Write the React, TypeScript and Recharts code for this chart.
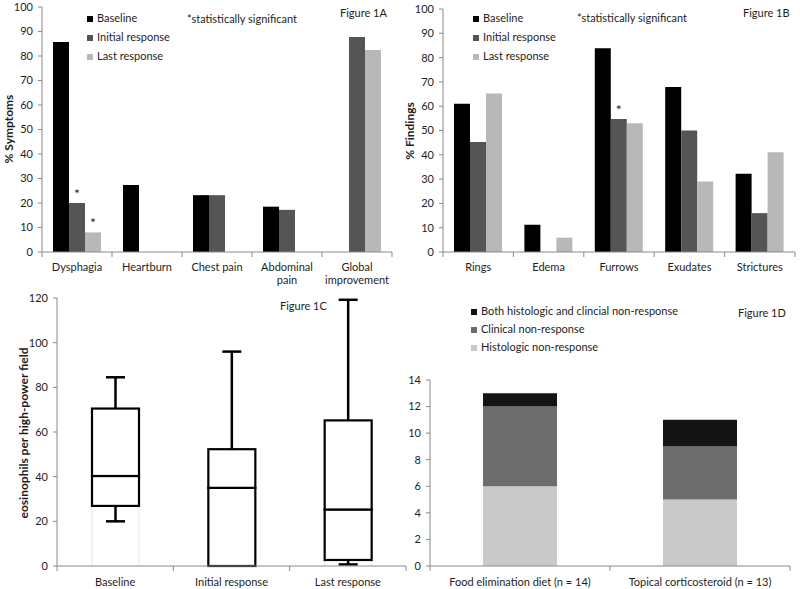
import React from 'react';
import {
  BarChart,
  Bar,
  XAxis,
  YAxis,
  Legend,
  LabelList,
} from 'recharts';

// Figure 1A - symptoms
const symptomCats = ['Dysphagia', 'Heartburn', 'Chest pain', 'Abdominal\npain', 'Global\nimprovement'];
const symptomBaseline = [85.7, 27.3, 23.2, 18.5, null];
const symptomInitial = [20, null, 23.2, 17.2, 87.8];
const symptomLast = [8, null, null, null, 82.4];
const symptomSigInitial = [true, false, false, false, false];
const symptomSigLast = [true, false, false, false, false];

// Figure 1B - endoscopic findings
const findingCats = ['Rings', 'Edema', 'Furrows', 'Exudates', 'Strictures'];
const findingBaseline = [61, 11.2, 83.8, 67.9, 32.2];
const findingInitial = [45.3, null, 54.7, 50, 16];
const findingLast = [65.2, 5.9, 53, 29, 41];
const findingSigInitial = [false, false, true, false, false];

// Figure 1C - eosinophil counts (box plot)
const eosCats = ['Baseline', 'Initial response', 'Last response'];
const eosMin = [20, 0, 0.7];
const eosQ1 = [26.9, 0, 2.7];
const eosMedian = [40.3, 35, 25.3];
const eosQ3 = [70.5, 52.3, 65.2];
const eosMax = [84.5, 96, 119.2];

// Figure 1D - non-response by treatment
const treatCats = ['Food elimination diet (n = 14)', 'Topical corticosteroid (n = 13)'];
const histologicNR = [6, 5];
const clinicalNR = [6, 4];
const bothNR = [1, 2];

const pctTicks = [0, 10, 20, 30, 40, 50, 60, 70, 80, 90, 100];
const eosTicks = [0, 20, 40, 60, 80, 100, 120];
const countTicks = [0, 2, 4, 6, 8, 10, 12, 14];

const AXIS = '#8a8a8a';
const TXT = '#1e1e1e';
const FONT = 'Lato, "Open Sans", sans-serif';

const dataA = symptomCats.map((name, i) => ({
  name,
  baseline: symptomBaseline[i],
  initial: symptomInitial[i],
  last: symptomLast[i],
  sigInitial: symptomSigInitial[i],
  sigLast: symptomSigLast[i],
}));

const dataB = findingCats.map((name, i) => ({
  name,
  baseline: findingBaseline[i],
  initial: findingInitial[i],
  last: findingLast[i],
  sigInitial: findingSigInitial[i],
  sigLast: false,
}));

const dataC = eosCats.map((name, i) => ({
  name,
  base: eosMin[i],
  lowWhisker: eosQ1[i] - eosMin[i],
  boxLow: eosMedian[i] - eosQ1[i],
  boxHigh: eosQ3[i] - eosMedian[i],
  highWhisker: eosMax[i] - eosQ3[i],
}));

const dataD = treatCats.map((name, i) => ({
  name,
  histologic: histologicNR[i],
  clinical: clinicalNR[i],
  both: bothNR[i],
}));

// category tick: label (possibly 2 lines) + tick marks at band boundaries
const CatTick = (props: any) => {
  const { x, y, payload, index, visibleTicksCount, textY } = props;
  const half = payload.offset || 0;
  const lines = String(payload.value).split('\n');
  const last = index === visibleTicksCount - 1;
  return (
    <g>
      <line x1={x - half} x2={x - half} y1={y} y2={y + 5} stroke={AXIS} />
      {last && <line x1={x + half} x2={x + half} y1={y} y2={y + 5} stroke={AXIS} />}
      <text x={x} y={y + textY} textAnchor="middle" fill={TXT} fontSize={11}>
        {lines.map((l, i) => (
          <tspan key={i} x={x} dy={i === 0 ? 0 : 13}>
            {l}
          </tspan>
        ))}
      </text>
    </g>
  );
};

const Star = (props: any) => {
  const { x, y, width, value } = props;
  if (!value) return null;
  return (
    <text x={x + width / 2} y={y - 4} textAnchor="middle" fill={TXT} fontSize={14}>
      *
    </text>
  );
};

const legendText = (v: string) => <span style={{ color: TXT }}>{v}</span>;

const BoxPart = (props: any) => {
  const { x, y, width, height } = props;
  if (!height) return null;
  return <rect x={x} y={y} width={width} height={height} fill="#fff" stroke="#000" strokeWidth={2.2} />;
};

const Faint = (props: any) => {
  const { x, y, width, height } = props;
  if (!height) return null;
  return (
    <g stroke="#e6e6e6">
      <line x1={x} x2={x} y1={y} y2={y + height} />
      <line x1={x + width} x2={x + width} y1={y} y2={y + height} />
    </g>
  );
};

const WhiskerLow = (props: any) => {
  const { x, y, width, height } = props;
  if (!height) return null;
  const cx = x + width / 2;
  return (
    <g>
      <Faint {...props} />
      <line x1={cx} x2={cx} y1={y} y2={y + height} stroke="#000" strokeWidth={2.5} />
      <line x1={cx - 9.5} x2={cx + 9.5} y1={y + height} y2={y + height} stroke="#000" strokeWidth={2.5} />
    </g>
  );
};

const WhiskerHigh = (props: any) => {
  const { x, y, width, height } = props;
  if (!height) return null;
  const cx = x + width / 2;
  return (
    <g stroke="#000" strokeWidth={2.5}>
      <line x1={cx} x2={cx} y1={y} y2={y + height} />
      <line x1={cx - 9.5} x2={cx + 9.5} y1={y} y2={y} />
    </g>
  );
};

const yAxisProps = {
  axisLine: { stroke: AXIS },
  tickLine: { stroke: AXIS },
  tickSize: 4,
  tickMargin: 5,
  tick: { fill: TXT, fontSize: 11 },
  interval: 0 as const,
};

const Note = ({ left, top, children, bold, rotate, size }: any) => (
  <div
    style={{
      position: 'absolute',
      left,
      top,
      transform: rotate ? 'translate(-50%, -50%) rotate(-90deg)' : 'translate(0, -50%)',
      whiteSpace: 'nowrap',
      fontSize: size || 11,
      fontWeight: bold ? 700 : 400,
      color: TXT,
    }}
  >
    {children}
  </div>
);

function GroupedPanel({ data, left, top, yw, right, ptop, legendLeft, legendTop }: any) {
  return (
    <div style={{ position: 'absolute', left, top }}>
      <BarChart
        width={400}
        height={290}
        data={data}
        margin={{ top: ptop, right, bottom: 8, left: 0 }}
        barGap={0}
        barSize={16}
      >
        <YAxis {...yAxisProps} width={yw} domain={[0, 100]} ticks={pctTicks} />
        <XAxis
          dataKey="name"
          axisLine={{ stroke: AXIS }}
          tickLine={false}
          tickSize={0}
          tickMargin={0}
          height={30}
          interval={0}
          tick={<CatTick textY={19} />}
        />
        <Legend
          layout="vertical"
          align="center"
          verticalAlign="middle"
          iconType="square"
          iconSize={6}
          formatter={legendText}
          wrapperStyle={{ left: legendLeft, top: legendTop, width: 'auto', fontSize: 11, lineHeight: '19px' }}
        />
        <Bar dataKey="baseline" name="Baseline" fill="#000" isAnimationActive={false} />
        <Bar dataKey="initial" name="Initial response" fill="#555555" isAnimationActive={false}>
          <LabelList dataKey="sigInitial" content={<Star />} />
        </Bar>
        <Bar dataKey="last" name="Last response" fill="#b8b8b8" isAnimationActive={false}>
          <LabelList dataKey="sigLast" content={<Star />} />
        </Bar>
      </BarChart>
    </div>
  );
}

export default function App() {
  return (
    <div
      style={{
        position: 'absolute',
        left: 0,
        top: 0,
        width: 800,
        height: 589,
        background: '#fff',
        fontFamily: FONT,
        overflow: 'hidden',
      }}
    >
      <GroupedPanel data={dataA} left={0} top={0} yw={42} right={8} ptop={7} legendLeft={87} legendTop={8} />
      <GroupedPanel data={dataB} left={400} top={0} yw={43} right={5} ptop={9} legendLeft={73} legendTop={8} />

      {/* Figure 1C box plot */}
      <div style={{ position: 'absolute', left: 0, top: 290 }}>
        <BarChart width={408} height={299} data={dataC} margin={{ top: 8, right: 2, bottom: 3, left: 0 }} barSize={47}>
          <YAxis {...yAxisProps} width={57} domain={[0, 120]} ticks={eosTicks} />
          <XAxis
            dataKey="name"
            axisLine={{ stroke: AXIS }}
            tickLine={false}
            tickSize={0}
            tickMargin={0}
            height={20}
            interval={0}
            tick={<CatTick textY={20} />}
          />
          <Bar dataKey="base" stackId="s" fill="none" shape={<Faint />} isAnimationActive={false} />
          <Bar dataKey="lowWhisker" stackId="s" shape={<WhiskerLow />} isAnimationActive={false} />
          <Bar dataKey="boxLow" stackId="s" shape={<BoxPart />} isAnimationActive={false} />
          <Bar dataKey="boxHigh" stackId="s" shape={<BoxPart />} isAnimationActive={false} />
          <Bar dataKey="highWhisker" stackId="s" shape={<WhiskerHigh />} isAnimationActive={false} />
        </BarChart>
      </div>

      {/* Figure 1D stacked bars */}
      <div style={{ position: 'absolute', left: 400, top: 290 }}>
        <BarChart width={400} height={299} data={dataD} margin={{ top: 90, right: 10, bottom: 3, left: 0 }} barSize={74}>
          <YAxis {...yAxisProps} width={30} domain={[0, 14]} ticks={countTicks} />
          <XAxis
            dataKey="name"
            axisLine={{ stroke: AXIS }}
            tickLine={false}
            tickSize={0}
            tickMargin={0}
            height={20}
            interval={0}
            tick={<CatTick textY={20} />}
          />
          <Legend
            layout="vertical"
            align="center"
            verticalAlign="middle"
            iconType="square"
            iconSize={6}
            formatter={legendText}
            wrapperStyle={{ left: 71, top: 12, width: 'auto', fontSize: 11, lineHeight: '18px' }}
          />
          <Bar dataKey="histologic" name="Histologic non-response" stackId="d" fill="#c9c9c9" isAnimationActive={false} />
          <Bar dataKey="clinical" name="Clinical non-response" stackId="d" fill="#6d6d6d" isAnimationActive={false} />
          <Bar dataKey="both" name="Both histologic and clincial non-response" stackId="d" fill="#141414" isAnimationActive={false} />
        </BarChart>
      </div>

      <Note left={8} top={129} bold rotate size={12}>% Symptoms</Note>
      <Note left={409} top={131} bold rotate size={12}>% Findings</Note>
      <Note left={23} top={433} bold rotate size={12}>eosinophils per high-power field</Note>

      <Note left={187} top={18}>*statistically significant</Note>
      <Note left={577} top={17}>*statistically significant</Note>
      <Note left={340} top={12}>Figure 1A</Note>
      <Note left={743} top={12}>Figure 1B</Note>
      <Note left={280} top={305}>Figure 1C</Note>
      <Note left={738} top={312}>Figure 1D</Note>
    </div>
  );
}
